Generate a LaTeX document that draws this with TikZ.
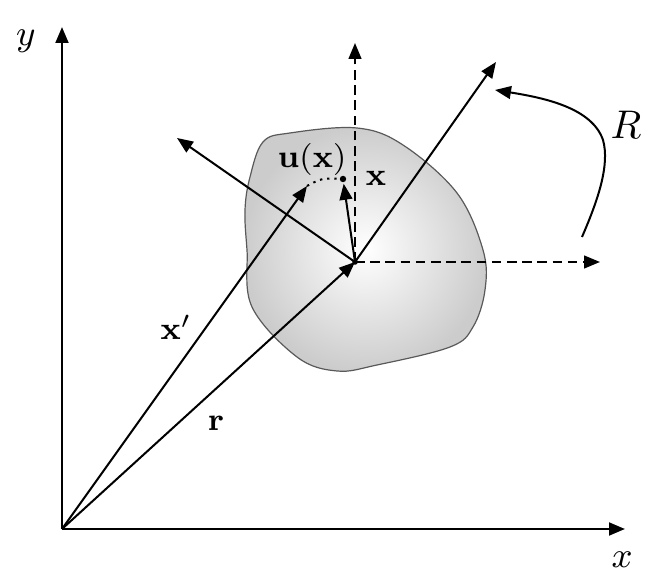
\documentclass[tikz,border=0pt]{standalone}
\usetikzlibrary{arrows.meta}
\begin{document}
\begin{tikzpicture}[x=0.25pt,y=-0.25pt,
  tip/.style={-{Triangle[length=4pt,width=3.2pt]}},
  ln/.style={line width=0.5pt},
  axis/.style={line width=0.62pt},
  dsh/.style={dash pattern=on 2.4pt off 1.4pt},
  dts/.style={dash pattern=on 0.6pt off 1.2pt},
  lblb/.style={inner sep=0pt,font=\fontsize{8}{10}\selectfont},
  lblm/.style={inner sep=0pt,font=\fontsize{9}{11}\selectfont},
  lblr/.style={inner sep=0pt,font=\fontsize{10}{12}\selectfont}]
\useasboundingbox (0,0) rectangle (664,586);
\coordinate (O) at (62,529);
\coordinate (C) at (355,262);
\coordinate (P) at (343,179);
\coordinate (Xp) at (307,186);
\coordinate (Ytip) at (62,27);
\coordinate (Xtip) at (625,529);
\coordinate (Vtip) at (355,43);
\coordinate (Htip) at (600,262);
\coordinate (A1) at (496,62);
\coordinate (A2) at (177,138);
\coordinate (Rs) at (582,237);
\coordinate (Rm) at (603,140);
\coordinate (Re) at (495,90);
% body
\path[draw=black!65,line width=0.3pt,inner color=white,outer color=black!20]
  plot[smooth cycle,tension=0.6] coordinates {(247,250) (245,210) (250,177) (263,142) (290,133) (357,128) (403,145) (457,193) (483,250) (485,290) (473,327) (450,347) (377,365) (337,371) (297,357) (252,307)};
% axes
\draw[axis,tip] (O) -- (Ytip);
\draw[axis,tip] (O) -- (Xtip);
% position vectors
\draw[ln,tip] (O) -- (C);
\draw[ln,tip] (O) -- (Xp);
% reference frame at C
\draw[ln,dsh,tip] (C) -- (Vtip);
\draw[ln,dsh,tip] (C) -- (Htip);
\draw[ln,tip] (C) -- (A1);
\draw[ln,tip] (C) -- (A2);
\draw[ln,tip,shorten >=1.2pt] (C) -- (P);
\fill (P) circle (0.8pt);
\fill (C) circle (0.7pt);
\draw[ln,dts] (Xp) .. controls (322,178) .. (P);
% rotation
\draw[ln,tip] (Rs) .. controls (598,200) and (610,165) .. (Rm) .. controls (592,108) and (545,98) .. (Re);
% labels
\node[lblm] (ly) at (26,41) {$y$};
\node[lblm] (lx) at (622,560) {$x$};
\node[lblr] (lR) at (626,125) {$R$};
\node[lblb] (lxp) at (176,327) {$\mathbf{x}'$};
\node[lblb] (lr) at (216,423) {$\mathbf{r}$};
\node[lblb] (lu) at (312,160) {$\mathbf{u}(\mathbf{x})$};
\node[lblb] (lxx) at (376,178) {$\mathbf{x}$};
\end{tikzpicture}
\end{document}
